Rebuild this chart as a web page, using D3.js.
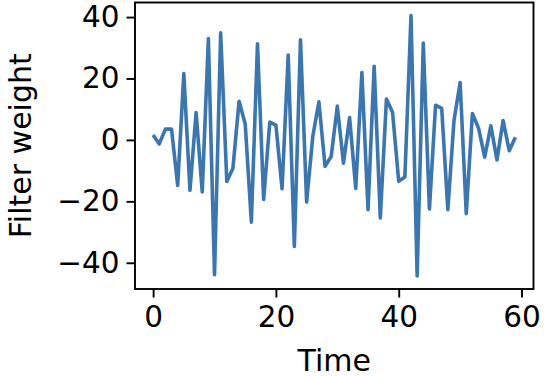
<!DOCTYPE html>
<html>
<head>
<meta charset="utf-8">
<script src="https://cdn.jsdelivr.net/npm/d3@7"></script>
<style>
  body { margin: 0; background: #fff; }
  text { font-family: "DejaVu Sans", sans-serif; fill: #000; }
</style>
</head>
<body>
<div id="chart"></div>
<script>
// filter weights, one per time step
var weights = [
  1.6, -1.3, 3.5, 3.5, -14.8, 21.6, -16.4, 8.9, -16.9, 33.0,
  -43.9, 34.9, -13.5, -9.2, 12.6, 5.2, -26.8, 31.3, -19.4, 5.8,
  4.8, -15.9, 27.6, -34.7, 32.6, -20.2, 1.1, 12.4, -8.6, -5.4,
  11.0, -7.6, 7.3, -15.8, 21.9, -22.7, 24.0, -25.4, 13.3, 8.9,
  -13.5, -12.1, 40.5, -44.3, 31.5, -22.5, 11.3, 10.3, -22.7, 6.3,
  18.7, -24.0, 8.6, 3.8, -5.6, 4.6, -6.5, 6.3, -3.5, 0.9
];
var xTicks = [0, 20, 40, 60];
var yTicks = [-40, -20, 0, 20, 40];

var svgWidth = 544;
var svgHeight = 376;
var margin = { top: 2.5, right: 10.5, bottom: 87, left: 135 };
var width = svgWidth - margin.left - margin.right;
var height = svgHeight - margin.top - margin.bottom;

var svg = d3.select("#chart")
  .append("svg")
  .attr("width", svgWidth)
  .attr("height", svgHeight);

var chartGroup = svg.append("g")
  .attr("transform", `translate(${margin.left}, ${margin.top})`);

// matplotlib style 5% padding around the data
var n = weights.length;
var xPad = (n - 1) * 0.05;
var xScale = d3.scaleLinear()
  .domain([-xPad, n - 1 + xPad])
  .range([0, width]);

var yMin = d3.min(weights), yMax = d3.max(weights);
var yPad = (yMax - yMin) * 0.05;
var yScale = d3.scaleLinear()
  .domain([yMin - yPad, yMax + yPad])
  .range([height, 0]);

var line = d3.line()
  .x((d, i) => xScale(i))
  .y(d => yScale(d));

chartGroup.append("path")
  .datum(weights)
  .attr("fill", "none")
  .attr("stroke", "#3b76af")
  .attr("stroke-width", 3.6)
  .attr("stroke-linejoin", "round")
  .attr("d", line);

// axes
var bottomAxis = d3.axisBottom(xScale).tickValues(xTicks).tickSize(8.5).tickPadding(7);
var leftAxis = d3.axisLeft(yScale).tickValues(yTicks).tickSize(8.5).tickPadding(7)
  .tickFormat(d => d < 0 ? "\u2212" + Math.abs(d) : d);

var xAxis = chartGroup.append("g")
  .attr("transform", `translate(0, ${height})`)
  .call(bottomAxis);
var yAxis = chartGroup.append("g")
  .call(leftAxis);

[xAxis, yAxis].forEach(function(ax) {
  ax.select(".domain").remove();
  ax.selectAll(".tick line").attr("stroke", "#000").attr("stroke-width", 1.9);
  ax.selectAll(".tick text").style("font-size", "29.5px");
});
xAxis.selectAll(".tick text").attr("dy", "0.76em");

// frame
chartGroup.append("rect")
  .attr("width", width)
  .attr("height", height)
  .attr("fill", "none")
  .attr("stroke", "#000")
  .attr("stroke-width", 1.9);

// labels
svg.append("text")
  .attr("x", margin.left + width / 2)
  .attr("y", 371)
  .attr("text-anchor", "middle")
  .style("font-size", "30px")
  .text("Time");

svg.append("text")
  .attr("transform", `translate(31, ${margin.top + height / 2}) rotate(-90)`)
  .attr("text-anchor", "middle")
  .style("font-size", "30px")
  .text("Filter weight");
</script>
</body>
</html>
